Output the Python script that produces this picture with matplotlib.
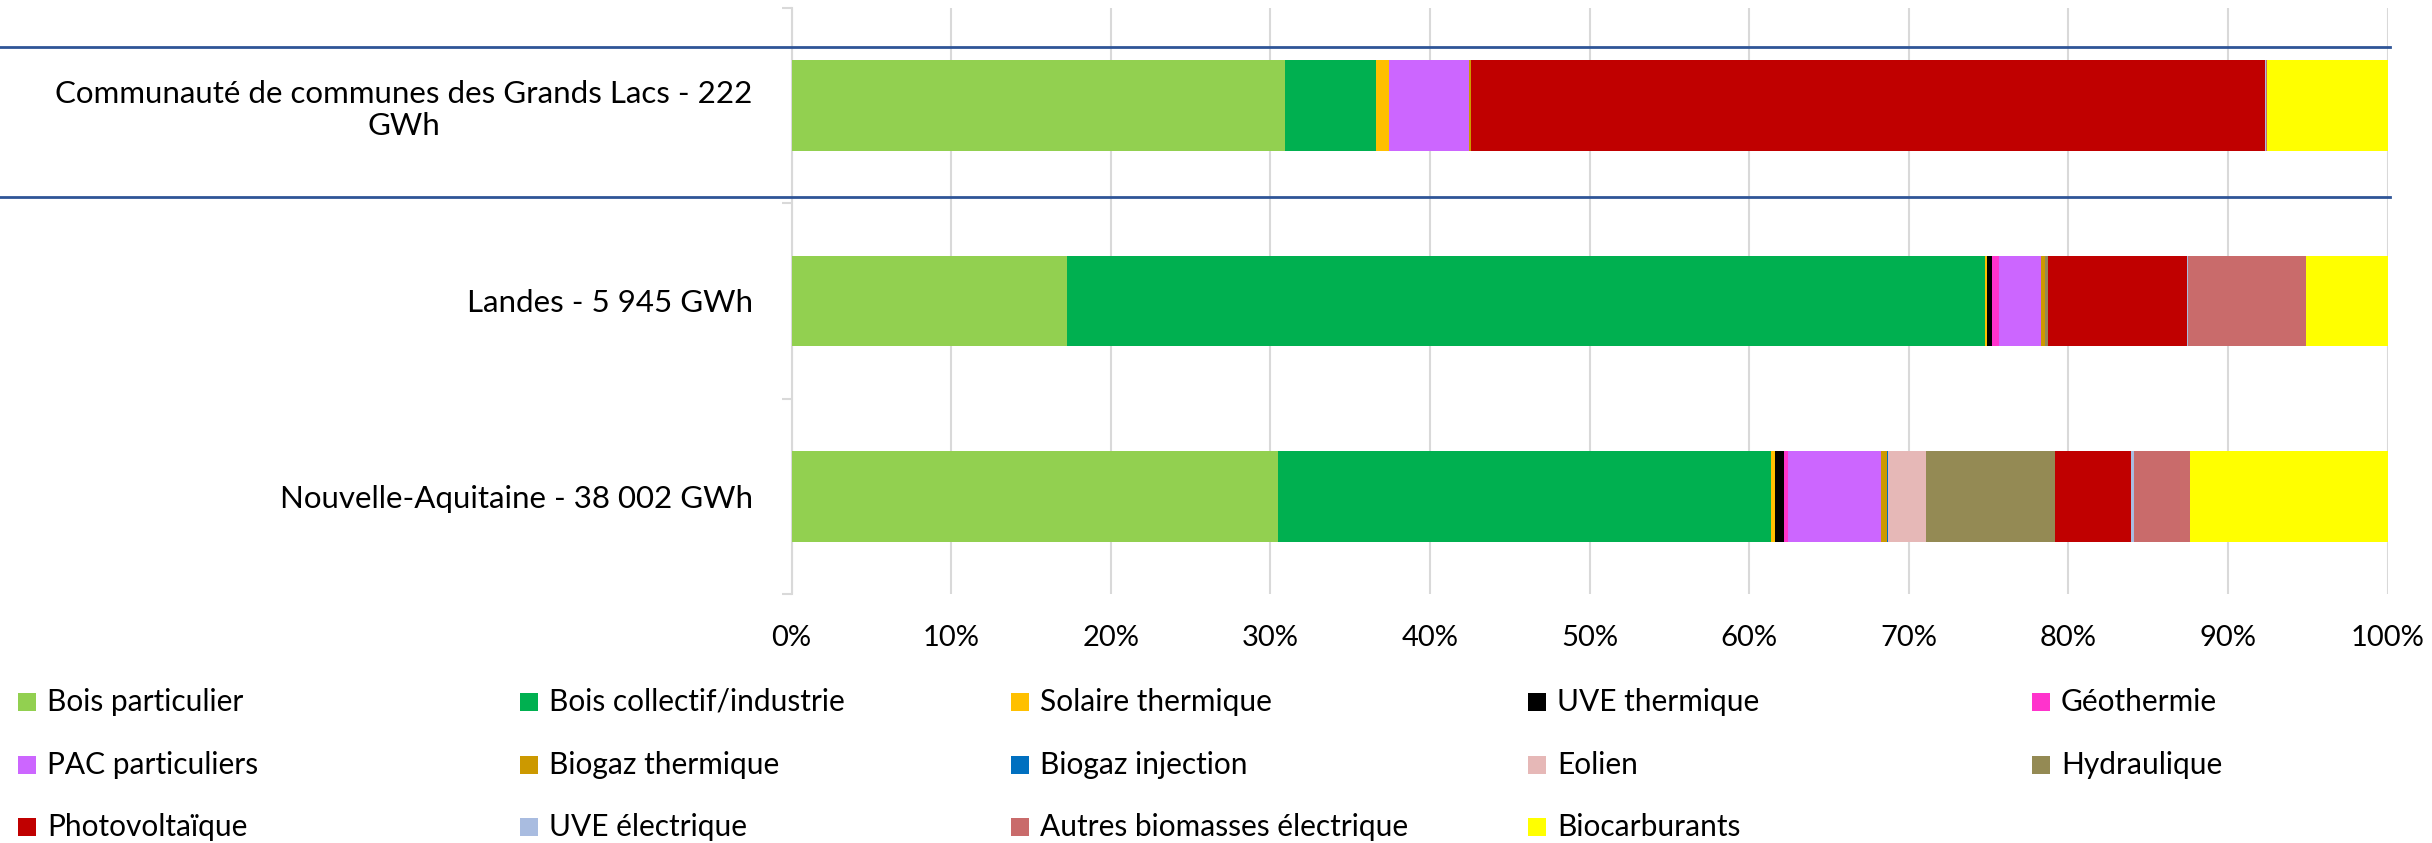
import matplotlib
matplotlib.use("Agg")
import matplotlib.pyplot as plt
from matplotlib.patches import Rectangle
from matplotlib.lines import Line2D
import numpy as np

plt.rcParams['font.family'] = ['Lato', 'DejaVu Sans']

categories = ["Communauté de communes des Grands Lacs - 222\nGWh",
              "Landes - 5 945 GWh",
              "Nouvelle-Aquitaine - 38 002 GWh"]

series = ["Bois particulier", "Bois collectif/industrie", "Solaire thermique",
          "UVE thermique", "Géothermie", "PAC particuliers", "Biogaz thermique",
          "Biogaz injection", "Eolien", "Hydraulique", "Photovoltaïque",
          "UVE électrique", "Autres biomasses électrique", "Biocarburants"]

colors = ["#92D050", "#00B050", "#FFC000", "#000000", "#FF33CC", "#CC66FF",
          "#CC9900", "#0070C0", "#E6B8B7", "#948A54", "#C00000", "#A9BCE0",
          "#C96B6B", "#FFFF00"]

# values in % per category (Grands Lacs, Landes, Nouvelle-Aquitaine)
bois_particulier = [30.9, 17.2, 30.5]
bois_collectif = [5.7, 57.4, 30.85]
solaire_thermique = [0.8, 0.16, 0.29]
uve_thermique = [0.0, 0.3, 0.56]
geothermie = [0.0, 0.46, 0.23]
pac_particuliers = [5.05, 2.59, 5.85]
biogaz_thermique = [0.1, 0.25, 0.37]
biogaz_injection = [0.0, 0.0, 0.02]
eolien = [0.0, 0.0, 2.41]
hydraulique = [0.0, 0.2, 8.06]
photovoltaique = [49.75, 8.7, 4.78]
uve_electrique = [0.05, 0.05, 0.21]
autres_biomasses = [0.1, 7.4, 3.49]
biocarburants = [7.55, 5.09, 12.38]

values = [bois_particulier, bois_collectif, solaire_thermique, uve_thermique,
          geothermie, pac_particuliers, biogaz_thermique, biogaz_injection,
          eolien, hydraulique, photovoltaique, uve_electrique,
          autres_biomasses, biocarburants]

xticks = [0, 10, 20, 30, 40, 50, 60, 70, 80, 90, 100]
xticklabels = [f"{t}%" for t in xticks]

W, H = 2432, 843
fig = plt.figure(figsize=(W / 100, H / 100), dpi=100)
ax = fig.add_axes([791.6 / W, 1 - 594 / H, (2387.7 - 791.6) / W, (594 - 8) / H])

y = np.arange(len(categories))
data = np.array(values, dtype=float)
totals = data.sum(axis=0)
data = data / totals * 100
left = np.zeros(len(categories))
for name, col, vals in zip(series, colors, data):
    ax.barh(y, vals, left=left, height=0.465, color=col, edgecolor='none', zorder=3)
    left += vals

ax.set_xlim(0, 100)
ax.set_ylim(len(categories) - 0.5, -0.5)
ax.set_xticks(xticks)
ax.set_xticklabels(xticklabels, fontsize=21)
ax.set_yticks(y)
ax.set_yticklabels(categories, fontsize=22.5, multialignment='center',
                   linespacing=1.15)
ax.set_yticks(np.arange(-0.5, len(categories)), minor=True)
ax.tick_params(axis='y', which='major', length=0, pad=28)
ax.tick_params(axis='y', which='minor', length=7, color='#D9D9D9', width=1.5)
ax.tick_params(axis='x', length=0, pad=22)
ax.grid(axis='x', color='#D9D9D9', linewidth=1.5, zorder=0)
for s in ['top', 'right', 'bottom']:
    ax.spines[s].set_visible(False)
ax.spines['left'].set_color('#D9D9D9')
ax.spines['left'].set_linewidth(1.5)

# dark blue separator lines across the figure
for ypix in [46.5, 197]:
    fig.add_artist(Line2D([0, 2390 / W], [1 - ypix / H, 1 - ypix / H],
                          color='#2F5597', linewidth=2))

# legend, laid out row-wise in 5 columns
col_x = [18, 520, 1011, 1528, 2032]
row_y = [702, 765, 827]
sq = 18
for i, (name, col) in enumerate(zip(series, colors)):
    r, c = divmod(i, 5)
    x0 = col_x[c]
    yc = row_y[r]
    fig.add_artist(Rectangle((x0 / W, 1 - (yc + sq / 2) / H), sq / W, sq / H,
                             facecolor=col, edgecolor='none',
                             transform=fig.transFigure))
    fig.text((x0 + 29) / W, 1 - yc / H, name, fontsize=21.5, va='center', ha='left')

fig.savefig("out.png", dpi=100, facecolor='white')
